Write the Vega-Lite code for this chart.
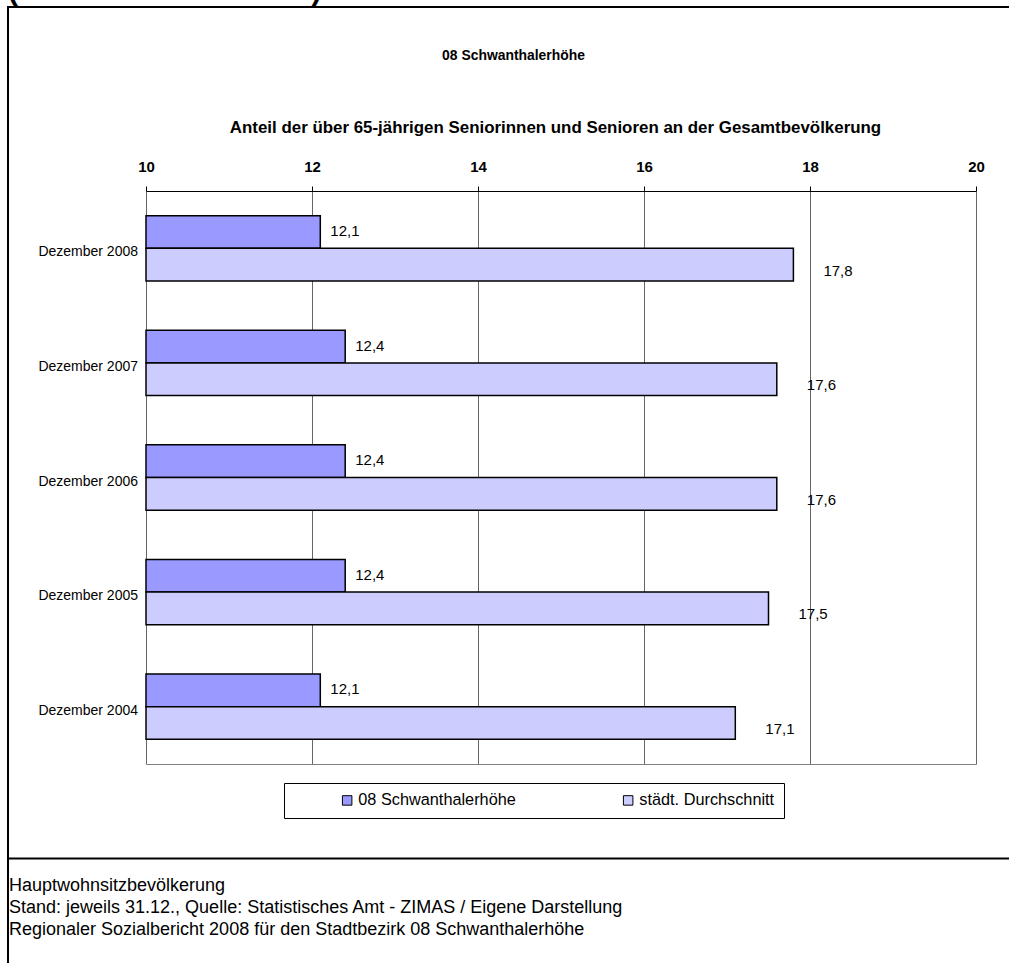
{
  "$schema": "https://vega.github.io/schema/vega-lite/v6.json",
  "autosize": "none",
  "padding": {"left": 8, "top": 7, "right": 0, "bottom": 0},
  "background": "white",
  "width": 1003,
  "height": 966,
  "title": {
    "text": "(Zeitreihe 2004 - 2008)",
    "anchor": "start",
    "frame": "group",
    "font": "'Liberation Sans', Arial, sans-serif",
    "fontSize": 30,
    "fontWeight": "bold",
    "color": "black",
    "offset": 1
  },
  "datasets": {
    "values": [
      {"period": "Dezember 2008", "series": "08 Schwanthalerhöhe", "value": 12.1},
      {"period": "Dezember 2008", "series": "städt. Durchschnitt", "value": 17.8},
      {"period": "Dezember 2007", "series": "08 Schwanthalerhöhe", "value": 12.4},
      {"period": "Dezember 2007", "series": "städt. Durchschnitt", "value": 17.6},
      {"period": "Dezember 2006", "series": "08 Schwanthalerhöhe", "value": 12.4},
      {"period": "Dezember 2006", "series": "städt. Durchschnitt", "value": 17.6},
      {"period": "Dezember 2005", "series": "08 Schwanthalerhöhe", "value": 12.4},
      {"period": "Dezember 2005", "series": "städt. Durchschnitt", "value": 17.5},
      {"period": "Dezember 2004", "series": "08 Schwanthalerhöhe", "value": 12.1},
      {"period": "Dezember 2004", "series": "städt. Durchschnitt", "value": 17.1}
    ],
    "footer": [
      {"line": 1, "text": "Hauptwohnsitzbevölkerung"},
      {"line": 2, "text": "Stand: jeweils 31.12., Quelle: Statistisches Amt - ZIMAS / Eigene Darstellung"},
      {"line": 3, "text": "Regionaler Sozialbericht 2008 für den Stadtbezirk 08 Schwanthalerhöhe"}
    ]
  },
  "resolve": {"scale": {"x": "independent", "y": "independent"}, "axis": {"x": "independent", "y": "independent"}},
  "layer": [
    {
      "data": {"name": "values"},
      "resolve": {"axis": {"x": "independent"}},
      "layer": [
        {
          "mark": {"type": "bar", "stroke": "black", "strokeWidth": 1.5},
          "encoding": {
            "y": {
              "field": "period", "type": "nominal",
              "sort": ["Dezember 2008", "Dezember 2007", "Dezember 2006", "Dezember 2005", "Dezember 2004"],
              "scale": {"range": [184, 757], "paddingInner": 0.43, "paddingOuter": 0.215},
              "axis": null
            },
            "yOffset": {
              "field": "series", "type": "nominal",
              "sort": ["08 Schwanthalerhöhe", "städt. Durchschnitt"],
              "scale": {"paddingInner": 0, "paddingOuter": 0}
            },
            "x": {
              "field": "value", "type": "quantitative",
              "scale": {"domain": [10, 20], "range": [138, 968], "zero": false, "nice": false},
              "axis": {
                "orient": "top", "offset": -184, "values": [10, 12, 14, 16, 18, 20],
                "domainColor": "black", "domainWidth": 1,
                "tickColor": "black", "tickSize": 5,
                "labelFont": "'Liberation Sans', Arial, sans-serif",
                "labelFontSize": 15, "labelFontWeight": "bold", "labelColor": "black",
                "labelPadding": 12, "labelFlush": false,
                "grid": true, "gridColor": "#666666", "gridWidth": 1,
                "title": "Anteil der über 65-jährigen Seniorinnen und Senioren an der Gesamtbevölkerung",
                "titleFont": "'Liberation Sans', Arial, sans-serif",
                "titleFontSize": 16.9, "titleFontWeight": "bold", "titleColor": "black",
                "titleX": 547, "titleY": -59, "titleAlign": "center", "titleBaseline": "alphabetic", "titleAngle": 0
              }
            },
            "x2": {"datum": 10},
            "color": {
              "field": "series", "type": "nominal",
              "scale": {"domain": ["08 Schwanthalerhöhe", "städt. Durchschnitt"], "range": ["#9999FF", "#CCCCFF"]},
              "legend": {
                "orient": "none", "legendX": 276, "legendY": 776,
                "direction": "horizontal", "title": null,
                "symbolType": "square", "symbolSize": 90, "symbolOffset": 46,
                "symbolStrokeColor": "black", "symbolStrokeWidth": 1,
                "labelFont": "'Liberation Sans', Arial, sans-serif",
                "labelFontSize": 16.3, "labelColor": "black", "labelOffset": 3, "labelLimit": 300,
                "columnPadding": 58, "padding": 9,
                "strokeColor": "black", "fillColor": "white"
              }
            }
          }
        },
        {
          "transform": [{"filter": "datum.series === '08 Schwanthalerhöhe'"}],
          "mark": {
            "type": "text", "align": "right", "baseline": "middle", "dx": -8, "dy": 4,
            "font": "'Liberation Sans', Arial, sans-serif",
            "fontSize": 14, "color": "black"
          },
          "encoding": {
            "y": {"field": "period", "type": "nominal", "sort": ["Dezember 2008", "Dezember 2007", "Dezember 2006", "Dezember 2005", "Dezember 2004"], "axis": null},
            "x": {"datum": 10, "type": "quantitative", "axis": null},
            "text": {"field": "period", "type": "nominal"}
          }
        },
        {
          "transform": [{"filter": "datum.series === '08 Schwanthalerhöhe'"}],
          "mark": {
            "type": "text", "align": "left", "baseline": "middle", "dx": 10, "dy": -1,
            "font": "'Liberation Sans', Arial, sans-serif",
            "fontSize": 15, "color": "black"
          },
          "encoding": {
            "y": {"field": "period", "type": "nominal", "sort": ["Dezember 2008", "Dezember 2007", "Dezember 2006", "Dezember 2005", "Dezember 2004"], "axis": null},
            "yOffset": {"field": "series", "type": "nominal", "sort": ["08 Schwanthalerhöhe", "städt. Durchschnitt"]},
            "x": {
              "field": "value", "type": "quantitative",
              "axis": {
                "orient": "bottom", "offset": -209, "domain": true, "domainColor": "#808080", "domainWidth": 1,
                "ticks": false, "labels": false, "grid": false,
                "title": "08 Schwanthalerhöhe", "titleX": 505, "titleY": -705,
                "titleAlign": "center", "titleBaseline": "alphabetic", "titleAngle": 0,
                "titleFont": "'Liberation Sans', Arial, sans-serif",
                "titleFontSize": 13.9, "titleFontWeight": "bold", "titleColor": "black"
              }
            },
            "text": {"field": "value", "type": "quantitative", "format": ".1f"}
          }
        },
        {
          "transform": [{"filter": "datum.series === 'städt. Durchschnitt'"}],
          "mark": {
            "type": "text", "align": "left", "baseline": "middle", "dx": 30, "dy": 6,
            "font": "'Liberation Sans', Arial, sans-serif",
            "fontSize": 15, "color": "black"
          },
          "encoding": {
            "y": {"field": "period", "type": "nominal", "sort": ["Dezember 2008", "Dezember 2007", "Dezember 2006", "Dezember 2005", "Dezember 2004"], "axis": null},
            "yOffset": {"field": "series", "type": "nominal", "sort": ["08 Schwanthalerhöhe", "städt. Durchschnitt"]},
            "x": {"field": "value", "type": "quantitative", "axis": null},
            "text": {"field": "value", "type": "quantitative", "format": ".1f"}
          }
        }
      ]
    },
    {
      "data": {"name": "footer"},
      "mark": {
        "type": "text", "align": "left", "baseline": "middle", "dx": 1,
        "font": "'Liberation Sans', Arial, sans-serif", "fontSize": 18, "color": "black"
      },
      "encoding": {
        "x": {
          "datum": 0, "type": "quantitative",
          "scale": {"domain": [0, 1], "zero": false, "nice": false},
          "axis": {"orient": "bottom", "offset": -115, "domain": true, "domainColor": "black", "domainWidth": 2, "ticks": false, "labels": false, "grid": false, "title": null}
        },
        "y": {
          "field": "line", "type": "ordinal",
          "scale": {"type": "point", "range": [879, 923], "padding": 0},
          "axis": null
        },
        "text": {"field": "text", "type": "nominal"}
      }
    }
  ],
  "config": {
    "locale": {"number": {"decimal": ",", "thousands": ".", "grouping": [3], "currency": ["", " €"]}},
    "view": {"stroke": "black", "strokeWidth": 2}
  }
}
